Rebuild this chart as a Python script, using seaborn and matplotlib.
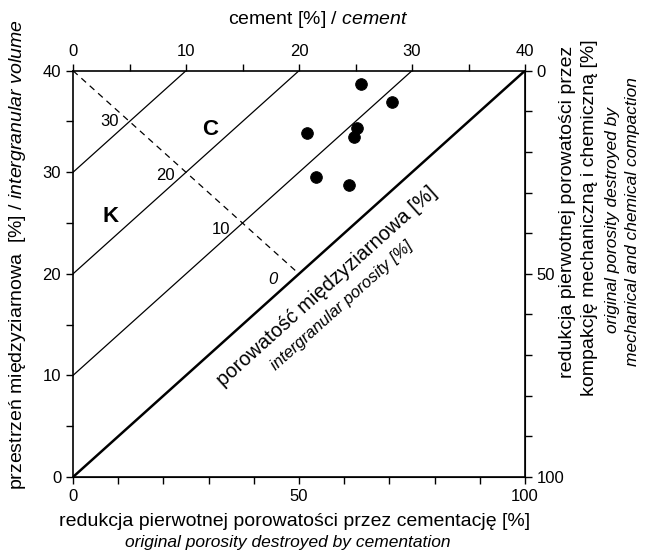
import numpy as np
import pandas as pd
import matplotlib
matplotlib.use("Agg")
import matplotlib.pyplot as plt
import seaborn as sns

# ---- data ----
cement = [25.5, 28.2, 20.7, 25.1, 24.9, 21.5, 24.4]
igv = [38.7, 36.9, 33.9, 34.4, 33.5, 29.5, 28.7]
porosity_levels = [30, 20, 10, 0]
porosity_labels = ["30", "20", "10", "0"]
dashed_x = [0, 20]
dashed_y = [40, 20]
cement_ticks = [0, 10, 20, 30, 40]
igv_ticks = [0, 10, 20, 30, 40]
pct_ticks = [0, 50, 100]

sns.set_style("ticks")
plt.rcParams["font.family"] = ["Liberation Sans", "DejaVu Sans"]
plt.rcParams["mathtext.fontset"] = "custom"
plt.rcParams["mathtext.rm"] = "Liberation Sans"
plt.rcParams["mathtext.it"] = "Liberation Sans:italic"
for k in ["text.color", "axes.labelcolor", "xtick.color", "ytick.color", "axes.edgecolor"]:
    plt.rcParams[k] = "black"

W, H = 648, 551
fig = plt.figure(figsize=(W / 100, H / 100), dpi=100)
ax = fig.add_axes([73 / W, 1 - 477 / H, (525 - 73) / W, (477 - 70.7) / H])

def px(x, y):
    return x / W, 1 - y / H

# porosity lines
for p in porosity_levels:
    d = pd.DataFrame({"c": [0, 40 - p], "v": [p, 40]})
    sns.lineplot(data=d, x="c", y="v", ax=ax, color="black",
                 lw=1.8 if p == 0 else 0.9, estimator=None, sort=False)
sns.lineplot(x=dashed_x, y=dashed_y, ax=ax, color="black", lw=0.9,
             estimator=None, sort=False, dashes=False, linestyle=(0, (5, 4)))

sns.scatterplot(x=cement, y=igv, ax=ax, color="black", s=70,
                edgecolor="black", zorder=5)

ax.set_xlim(0, 40)
ax.set_ylim(0, 40)
ax.set_xlabel("")
ax.set_ylabel("")
ax.xaxis.tick_top()
ax.set_xticks(cement_ticks)
ax.set_xticks([5, 15, 25, 35], minor=True)
ax.set_yticks(igv_ticks)
ax.set_yticks([5, 15, 25, 35], minor=True)
ax.tick_params(which="both", direction="out", length=5, width=1.0,
               labelsize=12, colors="black")
for s in ax.spines.values():
    s.set_visible(True)
    s.set_linewidth(1.2)
    s.set_color("black")

secx = ax.secondary_xaxis("bottom", functions=(lambda c: c * 2.5, lambda r: r / 2.5))
secx.set_xticks(pct_ticks)
secx.set_xticks(range(0, 101, 10), minor=True)
secx.tick_params(which="both", direction="out", length=5, width=1.0, labelsize=12)

secy = ax.secondary_yaxis("right", functions=(lambda v: (40 - v) * 2.5, lambda q: 40 - q / 2.5))
secy.set_yticks(pct_ticks)
secy.set_yticks(range(0, 101, 10), minor=True)
secy.tick_params(which="both", direction="out", length=5, width=1.0, labelsize=12)

# in-plot labels
lab_pos = [(3.2, 35.0), (8.2, 29.7), (13.1, 24.4), (17.7, 19.4)]
for (x, y), t in zip(lab_pos, porosity_labels):
    ax.text(x, y, t, fontsize=12, ha="center", va="center",
            style="italic" if t == "0" else "normal")
ax.text(12.1, 34.2, "C", fontsize=16, fontweight="bold", ha="center", va="center")
ax.text(3.3, 25.6, "K", fontsize=16, fontweight="bold", ha="center", va="center")
ax.text(22.5, 18.8, "porowatość międzyziarnowa [%]", fontsize=14.5, rotation=45,
        transform_rotates_text=True, rotation_mode="anchor", ha="center", va="center")
ax.text(23.8, 16.9, "intergranular porosity [%]", fontsize=12, style="italic",
        rotation=45, transform_rotates_text=True, rotation_mode="anchor",
        ha="center", va="center")

# axis titles
fig.text(*px(318, 19), r"cement [%] / $\mathit{cement}$", fontsize=14, ha="center", va="center")
fig.text(*px(295, 521), "redukcja pierwotnej porowatości przez cementację [%]",
         fontsize=14, ha="center", va="center")
fig.text(*px(288, 542), "original porosity destroyed by cementation",
         fontsize=12.5, style="italic", ha="center", va="center")
fig.text(*px(18, 255), r"przestrzeń międzyziarnowa  [%] / $\mathit{intergranular\ volume}$",
         fontsize=14, rotation=90, ha="center", va="center")
fig.text(*px(567, 212), "redukcja pierwotnej porowatości przez",
         fontsize=14, rotation=90, ha="center", va="center")
fig.text(*px(589, 218), "kompakcję mechaniczną i chemiczną [%]",
         fontsize=14, rotation=90, ha="center", va="center")
fig.text(*px(613, 220), "original porosity destroyed by",
         fontsize=12.5, style="italic", rotation=90, ha="center", va="center")
fig.text(*px(633, 222), "mechanical and chemical compaction",
         fontsize=12.5, style="italic", rotation=90, ha="center", va="center")

fig.savefig("out.png", dpi=100)
